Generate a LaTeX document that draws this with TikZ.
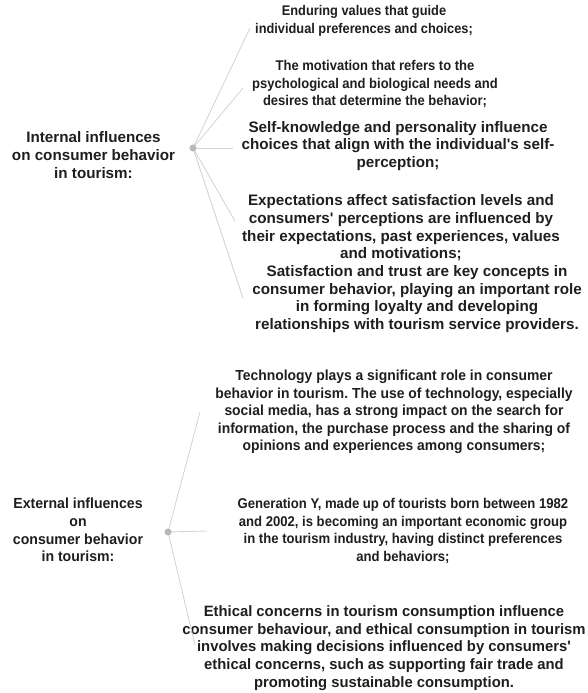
\documentclass[tikz,border=0pt]{standalone}
\usepackage{fontspec}
\setmainfont{Liberation Sans}
\definecolor{txtcol}{HTML}{1E1E1E}
\definecolor{linecol}{HTML}{D2D2D2}
\definecolor{dotcol}{HTML}{B8B8B8}
\newcommand{\qs}{\textquotesingle}
\begin{document}
\frenchspacing
\begin{tikzpicture}[x=1pt,y=-1pt,
  txt/.style={font=\bfseries\fontsize{#1}{17.6}\selectfont, text=txtcol, align=center, inner sep=0pt, transform shape},
  txt/.default=15.2,
  conn/.style={draw=linecol, line width=0.8pt},
  hub/.style={circle, fill=dotcol, inner sep=0pt, minimum size=7pt}]
\useasboundingbox (0,0) rectangle (588,693);
% left labels
\begin{scope}[shift={(93.5,155)}]
\node[txt] (intl) at (0,0) {Internal influences\\on consumer behavior\\in tourism:};
\end{scope}
\begin{scope}[shift={(78,530)}, xscale=0.962]
\node[txt=14.65] (extl) at (0,0) {External influences\\on\\consumer behavior\\in tourism:};
\end{scope}
% right text blocks
\begin{scope}[shift={(364,21)}, xscale=0.914]
\node[txt=14.0] (b1) at (0,0) {Enduring values that guide\\individual preferences and choices;};
\end{scope}
\begin{scope}[shift={(375,84)}, xscale=0.922]
\node[txt=14.1] (b2) at (0,0) {The motivation that refers to the\\psychological and biological needs and\\desires that determine the behavior;};
\end{scope}
\begin{scope}[shift={(398,146)}]
\node[txt] (b3) at (0,0) {Self-knowledge and personality influence\\choices that align with the individual\qs s self-\\perception;};
\end{scope}
\begin{scope}[shift={(401,228)}]
\node[txt] (b4) at (0,0) {Expectations affect satisfaction levels and\\consumers\qs{} perceptions are influenced by\\their expectations, past experiences, values\\and motivations;};
\end{scope}
\begin{scope}[shift={(417,299)}]
\node[txt] (b5) at (0,0) {Satisfaction and trust are key concepts in\\consumer behavior, playing an important role\\in forming loyalty and developing\\relationships with tourism service providers.};
\end{scope}
\begin{scope}[shift={(394,412)}, xscale=0.955]
\node[txt=14.55] (b6) at (0,0) {Technology plays a significant role in consumer\\behavior in tourism. The use of technology, especially\\social media, has a strong impact on the search for\\information, the purchase process and the sharing of\\opinions and experiences among consumers;};
\end{scope}
\begin{scope}[shift={(403,531)}, xscale=0.926]
\node[txt=14.15] (b7) at (0,0) {Generation Y, made up of tourists born between 1982\\and 2002, is becoming an important economic group\\in the tourism industry, having distinct preferences\\and behaviors;};
\end{scope}
\begin{scope}[shift={(384,648)}, xscale=0.987]
\node[txt=15.0] (b8) at (0,0) {Ethical concerns in tourism consumption influence\\consumer behaviour, and ethical consumption in tourism\\involves making decisions influenced by consumers\qs\\ethical concerns, such as supporting fair trade and\\promoting sustainable consumption.};
\end{scope}
% connector ends
\coordinate (i1) at (250,28);
\coordinate (i2) at (243,88);
\coordinate (i3) at (233,148);
\coordinate (i4) at (235,221);
\coordinate (i5) at (243,298);
\coordinate (e1) at (200,412);
\coordinate (e2) at (207,531);
\coordinate (e3) at (195,645);
\coordinate (ihc) at (193,148);
\coordinate (ehc) at (168,532);
\foreach \t in {i1,i2,i3,i4,i5} \draw[conn] (ihc) -- (\t);
\foreach \t in {e1,e2,e3} \draw[conn] (ehc) -- (\t);
\node[hub] (ih) at (ihc) {};
\node[hub] (eh) at (ehc) {};
\end{tikzpicture}
\end{document}
